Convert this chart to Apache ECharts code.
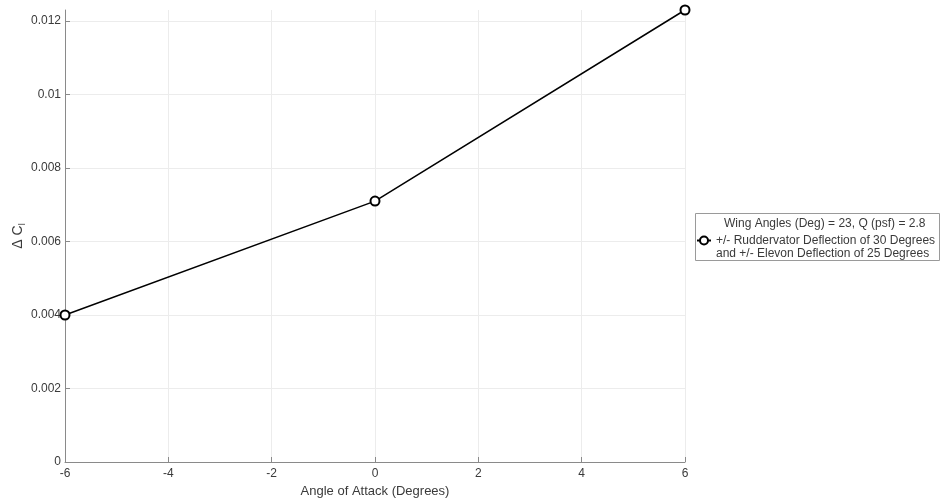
<!DOCTYPE html>
<html>
<head>
<meta charset="utf-8">
<script src="https://cdn.jsdelivr.net/npm/echarts@6/dist/echarts.min.js"></script>
<style>
  html, body { margin: 0; padding: 0; background: #fff; }
  #chart { width: 943px; height: 504px; }
</style>
</head>
<body>
<div id="chart"></div>
<script>
// Angle of attack sweep and the measured rolling-moment increment
const angles = [-6, 0, 6];
const deltaCl = [0.0040, 0.0071, 0.0123];
const yTicks = [0, 0.002, 0.004, 0.006, 0.008, 0.01, 0.012];
const xTicks = [-6, -4, -2, 0, 2, 4, 6];

const seriesName = '+/- Ruddervator Deflection of 30 Degrees\nand +/- Elevon Deflection of 25 Degrees';
const legendTitle = 'Wing Angles (Deg) = 23, Q (psf) = 2.8';

const FONT = 'Liberation Sans, Arial, Helvetica, sans-serif';
const AXIS_COLOR = '#8a8a8a';
const TEXT_COLOR = '#3a3a3a';
const GRID_COLOR = '#ececec';

const chart = echarts.init(document.getElementById('chart'), null, { renderer: 'canvas' });

chart.setOption({
  backgroundColor: '#ffffff',
  animation: false,
  textStyle: { fontFamily: FONT },
  grid: { left: 65, right: 258, top: 10, bottom: 42, containLabel: false, outerBoundsMode: 'none' },
  xAxis: {
    type: 'value',
    min: -6,
    max: 6,
    interval: 2,
    name: 'Angle of Attack (Degrees)',
    nameLocation: 'middle',
    nameGap: 23,
    nameMoveOverlap: false,
    nameTextStyle: { fontSize: 13, color: TEXT_COLOR, fontFamily: FONT },
    axisLine: { show: true, onZero: false, lineStyle: { color: AXIS_COLOR, width: 1 } },
    axisTick: { show: true, inside: true, length: 5, lineStyle: { color: AXIS_COLOR } },
    axisLabel: {
      margin: 6, fontSize: 12, color: TEXT_COLOR, fontFamily: FONT,
      customValues: xTicks,
      formatter: v => String(v)
    },
    splitLine: { show: true, lineStyle: { color: GRID_COLOR, width: 1 } }
  },
  yAxis: {
    type: 'value',
    min: 0,
    max: 0.0123,
    interval: 0.002,
    name: 'Δ C{sub|l}',
    nameLocation: 'middle',
    nameGap: 38,
    nameMoveOverlap: false,
    nameRotate: 90,
    nameTextStyle: {
      fontSize: 14, color: TEXT_COLOR, fontFamily: FONT,
      rich: { sub: { fontSize: 9, color: TEXT_COLOR, verticalAlign: 'bottom', padding: [8, 0, 0, 0] } }
    },
    axisLine: { show: true, onZero: false, lineStyle: { color: AXIS_COLOR, width: 1 } },
    axisTick: { show: true, inside: true, length: 5, lineStyle: { color: AXIS_COLOR }, customValues: yTicks },
    axisLabel: {
      margin: 4, fontSize: 12, color: TEXT_COLOR, fontFamily: FONT,
      customValues: yTicks,
      formatter: v => String(+v.toFixed(4))
    },
    splitLine: { show: true, lineStyle: { color: GRID_COLOR, width: 1 }, customValues: yTicks }
  },
  legend: {
    show: true,
    z: 20,
    orient: 'vertical',
    left: 695,
    top: 204,
    padding: [17, 4, 4, 1],
    itemWidth: 14,
    itemHeight: 10,
    itemGap: 0,
    // a leading blank line keeps the marker level with the first text line
    formatter: name => '\u00a0\n' + name,
    textStyle: { fontSize: 12, color: TEXT_COLOR, fontFamily: FONT, lineHeight: 13 },
    data: [seriesName]
  },
  graphic: {
    z: 2,
    elements: [{
      type: 'rect',
      z: 2,
      shape: { x: 695.5, y: 213.5, width: 244, height: 47 },
      style: { fill: '#ffffff', stroke: '#9a9a9a', lineWidth: 1 }
    }, {
      type: 'text',
      left: 724,
      top: 218,
      z: 3,
      style: { text: legendTitle, font: '12px ' + FONT, fill: TEXT_COLOR }
    }]
  },
  series: [{
    name: seriesName,
    type: 'line',
    data: angles.map((a, i) => [a, deltaCl[i]]),
    symbol: 'emptyCircle',
    symbolSize: 9,
    showAllSymbol: true,
    clip: false,
    lineStyle: { color: '#000000', width: 1.5 },
    itemStyle: { color: '#000000', borderColor: '#000000', borderWidth: 1 },
    emphasis: { disabled: true }
  }]
});
</script>
</body>
</html>
